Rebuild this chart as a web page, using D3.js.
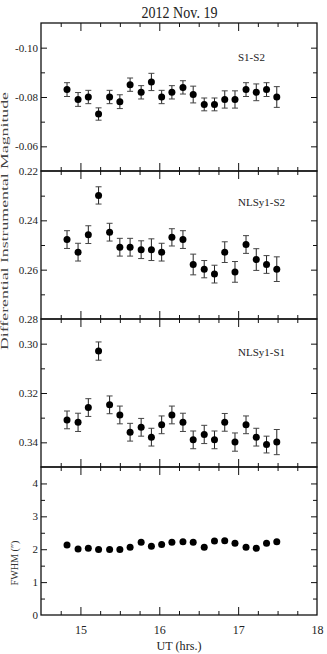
<!DOCTYPE html>
<html>
<head>
<meta charset="utf-8">
<script src="https://cdn.jsdelivr.net/npm/d3@7"></script>
<style>
  body { margin: 0; background: #fff; }
  svg text { font-family: "Liberation Serif", "Times New Roman", serif; fill: #222; }
</style>
</head>
<body>
<div id="chart"></div>
<script>
// UT times (hrs.) of each frame
const times = [14.83, 14.97, 15.10, 15.23, 15.37, 15.50, 15.63, 15.77, 15.90, 16.03, 16.16,
               16.30, 16.43, 16.57, 16.70, 16.83, 16.96, 17.10, 17.23, 17.36, 17.49];

// S1-S2
const s1s2 = [-0.0830, -0.0790, -0.0800, -0.0731, -0.0800, -0.0781, -0.0850, -0.0819, -0.0861, -0.0800, -0.0819,
              -0.0839, -0.0810, -0.0770, -0.0770, -0.0790, -0.0790, -0.0830, -0.0819, -0.0830, -0.0800];
const s1s2Err = [0.0028, 0.0028, 0.0027, 0.0025, 0.0027, 0.0028, 0.0027, 0.0027, 0.0035, 0.0027, 0.0027,
                 0.0027, 0.0034, 0.0026, 0.0026, 0.0035, 0.0035, 0.0028, 0.0034, 0.0028, 0.0042];

// NLSy1-S2
const nlsS2 = [0.2478, 0.2529, 0.2458, 0.2299, 0.2448, 0.2509, 0.2509, 0.2519, 0.2519, 0.2529, 0.2469,
               0.2478, 0.2579, 0.2598, 0.2618, 0.2529, 0.2609, 0.2498, 0.2559, 0.2579, 0.2598];
const nlsS2Err = [0.0036, 0.0036, 0.0036, 0.0035, 0.0036, 0.0036, 0.0036, 0.0036, 0.0044, 0.0036, 0.0035,
                  0.0036, 0.0042, 0.0035, 0.0036, 0.0042, 0.0042, 0.0036, 0.0044, 0.0036, 0.0050];

// NLSy1-S1
const nlsS1 = [0.3309, 0.3319, 0.3259, 0.3030, 0.3248, 0.3289, 0.3359, 0.3339, 0.3379, 0.3329, 0.3289,
               0.3319, 0.3390, 0.3368, 0.3390, 0.3319, 0.3399, 0.3329, 0.3379, 0.3409, 0.3399];
const nlsS1Err = [0.0036, 0.0037, 0.0036, 0.0037, 0.0036, 0.0036, 0.0036, 0.0036, 0.0036, 0.0036, 0.0036,
                  0.0037, 0.0036, 0.0037, 0.0036, 0.0036, 0.0037, 0.0036, 0.0036, 0.0034, 0.0051];

// seeing
const fwhm = [2.13, 2.01, 2.03, 1.99, 1.99, 1.99, 2.06, 2.21, 2.09, 2.14, 2.21,
              2.23, 2.21, 2.06, 2.25, 2.26, 2.18, 2.06, 2.03, 2.18, 2.23];

const xTicks = [15, 16, 17, 18];

const W = 327, H = 654;
const padL = 41, padR = 317, padT = 23, ph = 148;
const serif = '"Liberation Serif", "Times New Roman", serif';

const svg = d3.select("#chart").append("svg")
  .attr("width", W).attr("height", H);

const x = d3.scaleLinear().domain([14.5, 18]).range([padL, padR]);

const panels = [
  {vals: s1s2, err: s1s2Err, dom: [-0.11, -0.05], labels: [-0.10, -0.08, -0.06], step: 0.01, name: "S1-S2", ny: 61, fmt: d3.format(".2f")},
  {vals: nlsS2, err: nlsS2Err, dom: [0.22, 0.28], labels: [0.22, 0.24, 0.26, 0.28], step: 0.01, name: "NLSy1-S2", ny: 206, fmt: d3.format(".2f")},
  {vals: nlsS1, err: nlsS1Err, dom: [0.29, 0.35], labels: [0.30, 0.32, 0.34], step: 0.01, name: "NLSy1-S1", ny: 356, fmt: d3.format(".2f")},
  {vals: fwhm, err: null, dom: [4.5, 0], labels: [0, 1, 2, 3, 4], step: 0.5, name: null, fmt: d3.format("d")}
];

panels.forEach((p, i) => {
  const y0 = padT + i * ph, y1 = y0 + ph;
  const y = d3.scaleLinear().domain(p.dom).range([y0, y1]);
  const g = svg.append("g");

  // every tick position at the panel's step
  const lo = Math.min(...p.dom), hi = Math.max(...p.dom);
  const allTicks = d3.range(Math.round(lo / p.step), Math.round(hi / p.step) + 1).map(k => +(k * p.step).toFixed(4));
  const minor = allTicks.filter(t => !p.labels.some(l => Math.abs(l - t) < 1e-6));
  const inside = t => Math.abs(y(t) - y0) > 0.5 && Math.abs(y(t) - y1) > 0.5;

  // y axes: labelled ticks
  g.append("g").attr("transform", `translate(${padL},0)`)
    .call(d3.axisLeft(y).tickValues(p.labels).tickSize(-6).tickPadding(3).tickFormat(d => p.fmt(d).replace("\u2212", "-")))
    .call(a => a.select(".domain").remove())
    .call(a => a.selectAll(".tick line").filter(d => !inside(d)).remove())
    .call(a => a.selectAll("text").style("font-size", "11px").style("font-family", serif).attr("fill", "#222"));
  g.append("g").attr("transform", `translate(${padL},0)`)
    .call(d3.axisLeft(y).tickValues(minor.filter(inside)).tickSize(-4).tickFormat(""))
    .call(a => a.select(".domain").remove());
  g.append("g").attr("transform", `translate(${padR},0)`)
    .call(d3.axisRight(y).tickValues(p.labels.filter(inside)).tickSize(-6).tickFormat(""))
    .call(a => a.select(".domain").remove());
  g.append("g").attr("transform", `translate(${padR},0)`)
    .call(d3.axisRight(y).tickValues(minor.filter(inside)).tickSize(-4).tickFormat(""))
    .call(a => a.select(".domain").remove());

  // x ticks on top and bottom edges, pointing inward
  const xMinor = d3.range(14.75, 18, 0.25).filter(t => !xTicks.includes(t));
  const isLast = i === panels.length - 1;
  g.append("g").attr("transform", `translate(0,${y0})`)
    .call(d3.axisTop(x).tickValues(xTicks.filter(t => t < 18)).tickSize(-8).tickFormat(""))
    .call(a => a.select(".domain").remove());
  g.append("g").attr("transform", `translate(0,${y0})`)
    .call(d3.axisTop(x).tickValues(xMinor).tickSize(-4).tickFormat(""))
    .call(a => a.select(".domain").remove());
  g.append("g").attr("transform", `translate(0,${y1})`)
    .call(d3.axisBottom(x).tickValues(isLast ? xTicks : xTicks.filter(t => t < 18)).tickSize(-8).tickPadding(10)
      .tickFormat(isLast ? d3.format("d") : ""))
    .call(a => a.select(".domain").remove())
    .call(a => a.selectAll(".tick line").filter(d => d >= 18).remove())
    .call(a => a.selectAll("text").style("font-size", "12px").style("font-family", serif).attr("fill", "#222"));
  g.append("g").attr("transform", `translate(0,${y1})`)
    .call(d3.axisBottom(x).tickValues(xMinor).tickSize(-4).tickFormat(""))
    .call(a => a.select(".domain").remove());

  g.selectAll(".tick line").attr("stroke", "#111").attr("stroke-width", 1);

  // frame
  g.append("rect").attr("x", padL).attr("y", y0).attr("width", padR - padL).attr("height", ph)
    .attr("fill", "none").attr("stroke", "#111").attr("stroke-width", 1.3);

  // error bars
  if (p.err) {
    const eb = g.append("g").attr("stroke", "#222").attr("stroke-width", 1);
    p.vals.forEach((v, k) => {
      const cx = x(times[k]), ya = y(v - p.err[k]), yb = y(v + p.err[k]);
      eb.append("line").attr("x1", cx).attr("x2", cx).attr("y1", ya).attr("y2", yb);
      eb.append("line").attr("x1", cx - 3).attr("x2", cx + 3).attr("y1", ya).attr("y2", ya).attr("stroke", "#444");
      eb.append("line").attr("x1", cx - 3).attr("x2", cx + 3).attr("y1", yb).attr("y2", yb).attr("stroke", "#444");
    });
  }

  // points
  g.selectAll("circle.pt").data(p.vals).join("circle")
    .attr("class", "pt")
    .attr("cx", (d, k) => x(times[k]))
    .attr("cy", d => y(d))
    .attr("r", 3.5)
    .attr("fill", "#000");

  if (p.name) {
    g.append("text").attr("x", 238).attr("y", p.ny).style("font-size", "11px").text(p.name);
  }
});

// titles
svg.append("text").attr("x", 179.5).attr("y", 17.5).attr("text-anchor", "middle")
  .style("font-size", "16.5px").attr("textLength", 76).attr("lengthAdjust", "spacingAndGlyphs")
  .text("2012 Nov. 19");
svg.append("text").attr("x", 179).attr("y", 649.5).attr("text-anchor", "middle")
  .style("font-size", "12px").attr("textLength", 45).attr("lengthAdjust", "spacingAndGlyphs")
  .text("UT (hrs.)");
svg.append("text").attr("transform", "translate(8,221) rotate(-90)").attr("text-anchor", "middle")
  .style("font-size", "10px").style("fill", "#444").attr("textLength", 258).attr("lengthAdjust", "spacingAndGlyphs")
  .text("Differential Instrumental Magnitude");
svg.append("text").attr("transform", "translate(18,563) rotate(-90)").attr("text-anchor", "middle")
  .style("font-size", "10px").style("fill", "#333").attr("textLength", 45).attr("lengthAdjust", "spacingAndGlyphs")
  .text("FWHM (\u2033)");
</script>
</body>
</html>
